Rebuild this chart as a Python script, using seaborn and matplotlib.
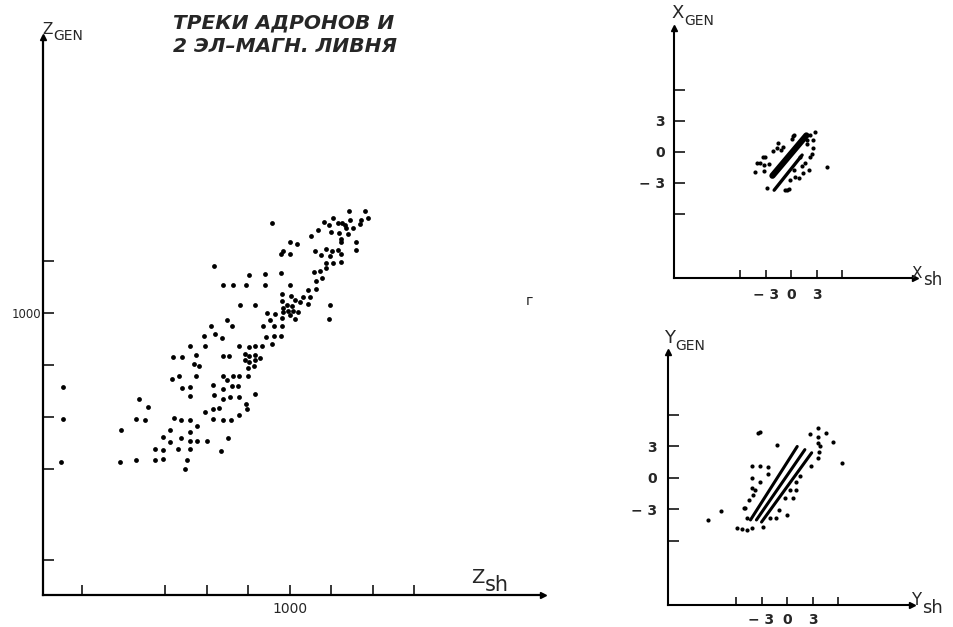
import numpy as np
import pandas as pd
import matplotlib
matplotlib.use("Agg")
import matplotlib.pyplot as plt
import seaborn as sns

# --- main panel: Z_sh vs Z_GEN ---
zsh = [1142, 1180, 958, 1105, 1126, 1144, 1172, 1188, 1082, 1094,
       1116, 1132, 1136, 1152, 1170, 1068, 1098, 1119, 1140, 1052,
       1123, 1122, 1160, 1000, 1017, 984, 978, 1001, 1061, 1074,
       1088, 1102, 1116, 1124, 1096, 1160, 1088, 1103, 1123, 818,
       902, 939, 978, 1058, 1072, 1087, 839, 862, 894, 941,
       1001, 1062, 1078, 1044, 1062, 980, 1002, 1032, 1048, 879,
       917, 982, 992, 1004, 1013, 1024, 1044, 1096, 984, 996,
       1008, 1020, 944, 964, 984, 980, 1000, 1013, 952, 1094,
       849, 861, 809, 934, 961, 981, 793, 819, 837, 942,
       962, 978, 759, 796, 877, 902, 917, 932, 956, 893,
       902, 917, 929, 891, 902, 915, 719, 740, 773, 838,
       854, 769, 781, 899, 914, 715, 733, 773, 838, 849,
       862, 878, 898, 739, 759, 815, 839, 861, 875, 759,
       818, 839, 855, 877, 917, 637, 659, 814, 829, 795,
       895, 897, 630, 650, 720, 737, 759, 815, 838, 859,
       877, 777, 593, 711, 759, 695, 711, 737, 759, 775,
       801, 851, 676, 695, 731, 759, 833, 590, 630, 676,
       695, 752, 748, 453, 453, 448]
zgen = [1196, 1196, 1173, 1183, 1173, 1180, 1180, 1182, 1175, 1169,
        1173, 1169, 1164, 1163, 1171, 1159, 1156, 1155, 1153, 1148,
        1143, 1137, 1137, 1136, 1132, 1120, 1113, 1114, 1119, 1111,
        1124, 1120, 1122, 1114, 1109, 1121, 1096, 1096, 1098, 1091,
        1073, 1075, 1077, 1079, 1081, 1086, 1054, 1054, 1054, 1055,
        1055, 1061, 1068, 1044, 1047, 1036, 1033, 1031, 1031, 1015,
        1016, 1023, 1015, 1013, 1025, 1021, 1017, 1016, 1009, 1004,
        1005, 1002, 1000, 999, 1002, 991, 996, 989, 986, 989,
        986, 975, 976, 976, 975, 976, 956, 959, 953, 954,
        956, 957, 937, 936, 936, 935, 936, 936, 940, 922,
        918, 920, 914, 909, 906, 909, 916, 916, 919, 917,
        918, 903, 898, 895, 898, 874, 879, 880, 879, 871,
        879, 880, 879, 857, 858, 861, 855, 860, 860, 841,
        842, 834, 839, 839, 845, 834, 820, 816, 818, 809,
        825, 815, 796, 794, 799, 794, 794, 797, 794, 794,
        805, 783, 775, 776, 772, 761, 752, 759, 755, 755,
        754, 759, 739, 736, 738, 738, 735, 713, 717, 718,
        719, 717, 701, 858, 796, 713]
z_xticks = [500, 700, 800, 900, 1000, 1100, 1200, 1300]
z_yticks = [525, 700, 800, 900, 1000, 1100]

# --- X panel ---
xsh = [2.8, 2.2, 0.4, 0.1, 2.6, 1.9, -1.5, -1.7, -2.1, 2.45, 2.25, 1.05, -3.05,
       -3.65, -4.05, -3.25, -4.3, -3.25, 1.65, 1.25, 2.05, 1.45, 0.3, 0.45, -0.1,
       4.2, -2.85, -0.7, -0.3, -0.9, 0.2, 1.9, 2.6, -3.3, -0.5, 0.95, -1.2, -2.6]
xgen = [1.9, 1.65, 1.65, 1.3, 1.15, 0.8, 0.85, 0.35, 0.05, -0.15, -0.5, -0.45, -0.5,
        -1.1, -1.1, -1.25, -1.9, -1.8, -1.05, -1.4, -1.75, -2.05, -1.75, -2.4, -2.75,
        -1.5, -3.5, -3.65, -3.6, 0.5, 1.55, 1.2, 0.4, -0.45, -3.7, -2.5, 0.2, -1.2]
# dense streaks of overlapping dots: (x0, y0, x1, y1, width)
x_streaks = [(-2.2, -2.3, 1.8, 1.6, 4.5), (-2.0, -3.7, 1.3, -0.3, 2.4)]

# --- Y panel ---
ysh = [-3.4, -3.2, 3.7, 2.7, 3.7, 4.6, 5.45, -1.2, 3.7, 3.85, 3.8, 3.7, 6.5, 2.8,
       -4.15, -3.2, -2.2, -4.15, -2.2, -3.2, 1.5, 1.1, 0.35, 1.05, -4.15, -3.8,
       -4.0, -4.45, -0.25, 0.75, -4.95, -5.1, -1.0, 0.05, -7.8, -9.3, -5.9, -5.3,
       -4.7, -4.1, -2.8, -4.7, -2.0, -1.3]
ygen = [4.25, 4.4, 4.75, 4.2, 3.95, 4.3, 3.4, 3.15, 3.3, 3.0, 2.5, 1.9, 1.45, 1.1,
        1.1, 1.15, 1.05, 0.0, 0.4, -0.35, 0.15, -0.35, -1.15, -1.1, -1.0, -1.15,
        -1.6, -2.1, -1.95, -1.95, -2.9, -2.9, -3.05, -3.5, -3.1, -4.0, -4.8, -4.9,
        -5.0, -4.8, -4.7, -3.8, -3.8, -3.8]
y_streaks = [(-4.3, -4.0, 1.2, 3.0, 2.2), (-3.6, -4.0, 2.1, 2.7, 2.2),
             (-3.0, -4.2, 2.9, 2.4, 2.2)]

small_ticks = [-6, -3, 0, 3, 6]
small_labels = ["", "\u2212 3", "0", "3", ""]

sns.set_style("white")
plt.rcParams["font.family"] = ["DejaVu Sans"]

W, H = 954, 627
fig = plt.figure(figsize=(W / 100, H / 100), dpi=100)


def px_axes(left, top, right, bottom):
    return fig.add_axes([left / W, 1 - bottom / H, (right - left) / W, (bottom - top) / H])


def arrow_axes(ax, lw=1.5):
    for s in ["top", "right"]:
        ax.spines[s].set_visible(False)
    for s in ["left", "bottom"]:
        ax.spines[s].set_linewidth(lw)
        ax.spines[s].set_color("black")
    ax.plot([1], [0], marker=">", color="black", ms=5, transform=ax.transAxes, clip_on=False)
    ax.plot([0], [1], marker="^", color="black", ms=5, transform=ax.transAxes, clip_on=False)
    ax.set_xlabel("")
    ax.set_ylabel("")


def sublabel(x, y, main, sub, size_main, size_sub, dy=-2):
    t = fig.text(x / W, 1 - y / H, main, fontsize=size_main, ha="left", va="baseline")
    plt.annotate(sub, xy=(1, 0), xycoords=t, xytext=(0.5, dy), textcoords="offset points",
                 fontsize=size_sub, ha="left", va="baseline", annotation_clip=False)


# main panel
ax = px_axes(43, 37, 543, 595)
df_z = pd.DataFrame({"Zsh": zsh, "Zgen": zgen})
sns.scatterplot(data=df_z, x="Zsh", y="Zgen", ax=ax, s=12, color="black", linewidth=0)
ax.set_xlim(405, 1610)
ax.set_ylim(458, 1531)
ax.set_xticks(z_xticks)
ax.set_xticklabels(["1000" if v == 1000 else "" for v in z_xticks])
ax.set_yticks(z_yticks)
ax.set_yticklabels(["1000" if v == 1000 else "" for v in z_yticks])
ax.tick_params(axis="x", direction="in", length=7, width=1.3, labelsize=10, pad=5, bottom=True)
ax.tick_params(axis="y", direction="in", length=8, width=1.3, labelsize=8.5, pad=1, left=True)
arrow_axes(ax, 1.6)

# X panel
axx = px_axes(674, 28, 915, 278)
df_x = pd.DataFrame({"Xsh": xsh, "Xgen": xgen})
for x0, y0, x1, y1, lw in x_streaks:
    axx.plot([x0, x1], [y0, y1], color="black", lw=lw, solid_capstyle="round")
sns.scatterplot(data=df_x, x="Xsh", y="Xgen", ax=axx, s=9, color="black", linewidth=0)
axx.set_xlim(-13.8, 14.6)
axx.set_ylim(-12.2, 12.0)

# Y panel
axy = px_axes(668, 352, 912, 605)
df_y = pd.DataFrame({"Ysh": ysh, "Ygen": ygen})
for x0, y0, x1, y1, lw in y_streaks:
    axy.plot([x0, x1], [y0, y1], color="black", lw=lw, solid_capstyle="round")
sns.scatterplot(data=df_y, x="Ysh", y="Ygen", ax=axy, s=9, color="black", linewidth=0)
axy.set_xlim(-14.0, 14.7)
axy.set_ylim(-12.1, 12.0)

for a, xpad, ypad in [(axx, 7, 6.5), (axy, 6, 8)]:
    a.set_xticks(small_ticks)
    a.set_xticklabels(small_labels, fontweight="bold")
    a.set_yticks(small_ticks)
    a.set_yticklabels(small_labels, fontweight="bold")
    a.tick_params(axis="x", direction="in", length=6, width=1.3, labelsize=10, pad=xpad, bottom=True)
    a.tick_params(axis="y", direction="in", length=8, width=1.3, labelsize=10, pad=ypad, left=True)
    arrow_axes(a, 1.5)

# axis names
sublabel(42, 34, "Z", "GEN", 11, 10)
sublabel(471, 583, "Z", "sh", 14, 15, dy=-3)
sublabel(671, 18, "X", "GEN", 13, 10)
sublabel(912, 278, "X", "sh", 11, 12, dy=-3)
sublabel(664, 343, "Y", "GEN", 13, 10)
sublabel(911, 605, "Y", "sh", 12, 13, dy=-3)

# title
fig.text(173 / W, 1 - 28 / H, "ТРЕКИ АДРОНОВ И", fontsize=14.5, style="italic",
         fontweight="bold", ha="left", va="baseline")
fig.text(173 / W, 1 - 52 / H, "2 ЭЛ–МАГН. ЛИВНЯ", fontsize=14.5, style="italic",
         fontweight="bold", ha="left", va="baseline")
fig.text(526 / W, 1 - 305 / H, "г", fontsize=10, ha="left", va="baseline")

fig.savefig("out.png", dpi=100)
